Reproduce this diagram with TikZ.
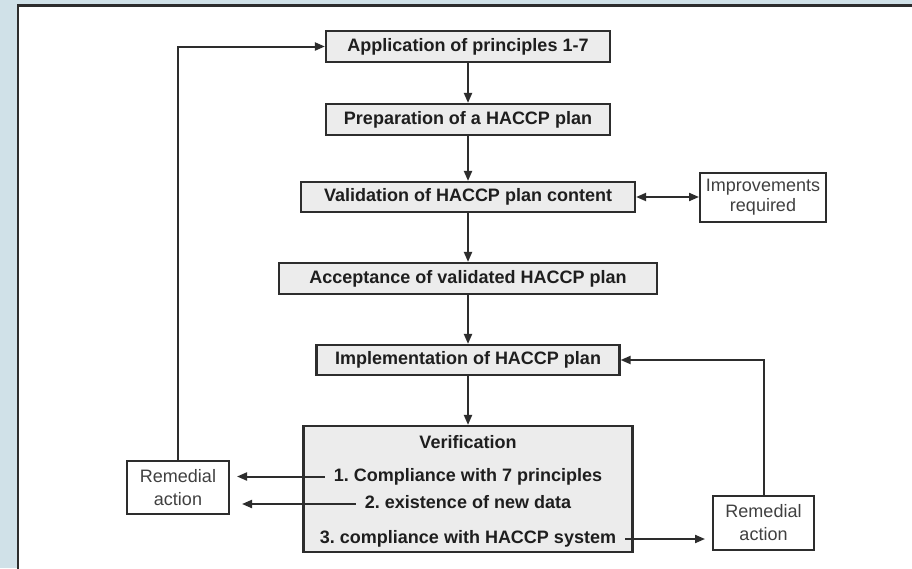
\documentclass[tikz,border=0pt]{standalone}
\usepackage{fontspec}
\setmainfont{Liberation Sans}
\usetikzlibrary{arrows.meta}
\definecolor{bgblue}{RGB}{208,225,232}
\definecolor{boxfill}{RGB}{236,236,236}
\definecolor{boxline}{RGB}{45,45,45}
\definecolor{textdark}{RGB}{30,30,30}
\definecolor{textgray}{RGB}{64,64,64}
\frenchspacing

\begin{document}
\begin{tikzpicture}[
		x=1pt, y=-1pt,
		>={Triangle[length=10pt, width=8pt]},
		every node/.style={rectangle, font=\fontsize{18}{21}\selectfont},
		plan_box/.style={draw=boxline, line width=2.2pt, fill=boxfill, text=textdark, font=\fontsize{18}{21}\selectfont\bfseries, minimum height=31pt, inner sep=0pt},
		remedy_box/.style={draw=boxline, line width=2pt, fill=white, text=textgray, align=center, inner sep=0pt},
		check_line/.style={text=textdark, font=\fontsize{18}{21}\selectfont\bfseries, text height=13pt, text depth=4pt, inner xsep=9pt, inner ysep=0pt},
		flow/.style={->, draw=boxline, line width=2pt}
	]
  \useasboundingbox (0, 0) rectangle (912, 568);
  % background and panel
  \fill[bgblue] (0, 0) rectangle (912, 568);
  \draw[boxline, line width=2.2pt, fill=white] (18, 5.5) rectangle (920, 580);

  \node (app) [plan_box, minimum width=284pt] at (468, 46.5) {Application of principles 1-7};
  \node (prep) [plan_box, minimum width=284pt] at (468, 119.5) {Preparation of a HACCP plan};
  \node (val_c) [plan_box, minimum width=334pt, minimum height=30pt] at (468, 197) {Validation of HACCP plan content};
  \node (acc) [plan_box, minimum width=378pt] at (468, 278.5) {Acceptance of validated HACCP plan};
  \node (impl) [plan_box, minimum width=303pt, minimum height=30pt] at (468, 360) {Implementation of HACCP plan};
  \node (verif) [plan_box, minimum width=329pt, minimum height=126pt] at (468, 489) {};
  \node (v_head) [check_line] at (468, 444) {Verification};
  \node (v_1) [check_line] at (468, 476.5) {1. Compliance with 7 principles};
  \node (v_2) [check_line] at (468, 504) {2. existence of new data};
  \node (v_3) [check_line] at (468, 539) {3. compliance with HACCP system};

  \node (improv) [remedy_box, minimum width=126pt, minimum height=49pt, font=\fontsize{18}{20}\selectfont] at (763, 197) {Improvements\\required};
  \node (rem_l) [remedy_box, minimum width=102pt, minimum height=53pt, font=\fontsize{18}{23}\selectfont] at (178, 487.5) {Remedial\\action};
  \node (rem_r) [remedy_box, minimum width=101pt, minimum height=54pt, font=\fontsize{18}{23}\selectfont] at (763.5, 523) {Remedial\\action};

  \draw[flow] (app) -- (prep);
  \draw[flow] (prep) -- (val_c);
  \draw[flow] (val_c) -- (acc);
  \draw[flow] (acc) -- (impl);
  \draw[flow] (impl) -- (verif);
  \draw[flow, <->] (val_c) -- (improv);
  \draw[flow] (rem_l.north) |- (app.west);
  \draw[flow] (rem_r.north) |- (impl.east);
  \draw[flow, shorten >=7pt] (v_1.west) -- (v_1.west -| rem_l.east);
  \draw[flow, shorten >=12pt] (v_2.west) -- (v_2.west -| rem_l.east);
  \draw[flow, shorten >=7pt] (v_3.east) -- (v_3.east -| rem_r.west);
\end{tikzpicture}
\end{document}
